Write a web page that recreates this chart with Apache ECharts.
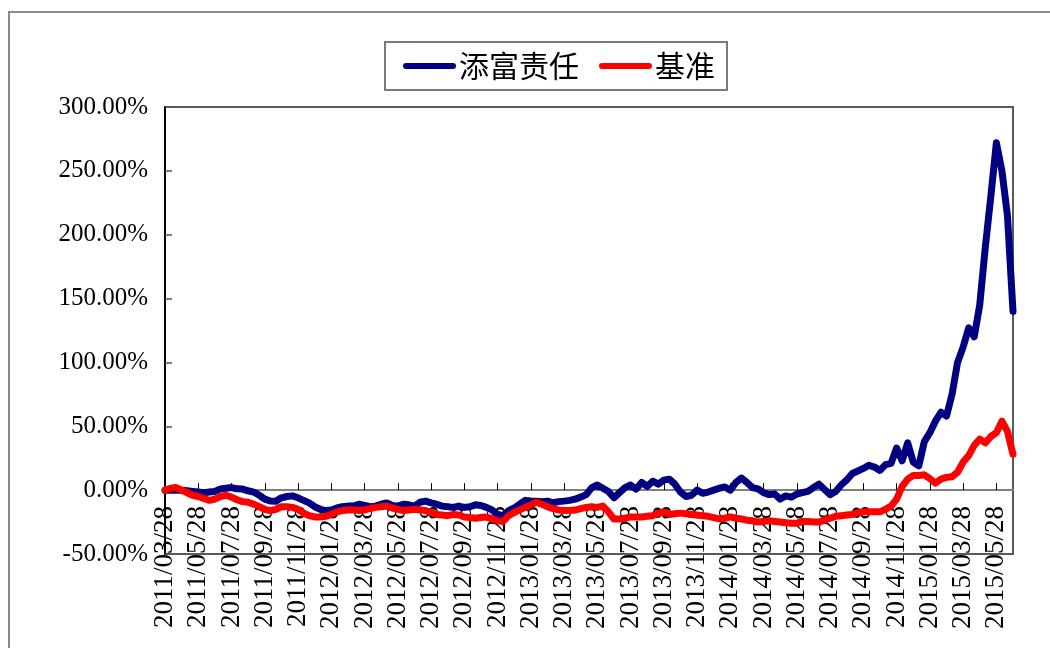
<!DOCTYPE html>
<html lang="zh">
<head>
    <meta charset="UTF-8">
    <title>添富责任 vs 基准</title>
    <script src="https://cdn.jsdelivr.net/npm/echarts@6/dist/echarts.min.js"></script>
    <style>
        html, body { margin: 0; padding: 0; background: #fff; }
    </style>
</head>
<body>
    <div id="main" style="width: 1050px;height: 648px;"></div>

    <script type="text/javascript">
        // 横轴刻度标签（每两个月一个）
        var tickLabels = [
            '2011/03/28','2011/05/28','2011/07/28','2011/09/28','2011/11/28',
            '2012/01/28','2012/03/28','2012/05/28','2012/07/28','2012/09/28','2012/11/28',
            '2013/01/28','2013/03/28','2013/05/28','2013/07/28','2013/09/28','2013/11/28',
            '2014/01/28','2014/03/28','2014/05/28','2014/07/28','2014/09/28','2014/11/28',
            '2015/01/28','2015/03/28','2015/05/28'
        ];
        // 每个刻度之间的取样点数
        var perTick = 6;

        // 添富责任 累计收益 (%)
        var fund = [
            0, 0, 0, 0, -0.5, -1, -1.5, -2, -1.5, -1,
            1, 1.5, 2, 1, 0.8, -0.5, -1.5, -4, -7, -8.5,
            -8.6, -6, -5, -4.5, -6, -8, -10, -13, -15, -16,
            -15.5, -14, -13, -12.5, -12.5, -11, -12, -13, -12.5, -11,
            -10, -12, -12.5, -11, -11.5, -12.5, -9.5, -8.6, -10, -11,
            -12.5, -13, -13.5, -12.5, -13.5, -13, -11.5, -12, -13.5, -15.5,
            -19, -20, -16, -14, -11, -8, -8.5, -8.6, -9, -8.6,
            -10, -9, -8.6, -8, -7, -5.5, -3.5, 2, 4, 1.5,
            -1, -6, -2, 2, 4, 0.8, 6, 3, 7, 4.7,
            7.8, 8.6, 4.7, -1.5, -5, -4, 0, -2.5, -1.5, 0,
            1.5, 2.5, 0, 6, 9.5, 6, 2, 1, -2, -3.5,
            -3, -7, -4.5, -5.5, -3, -2, -1, 2, 4.7, 0.5,
            -3.5, -1, 4, 8, 13, 15, 17, 19.5, 18, 15.5,
            20, 21, 33, 23, 37, 22, 19, 38, 45, 54,
            61, 58, 75, 100, 112, 127, 120, 145, 190, 230,
            272, 250, 215, 140
        ];
        // 基准 累计收益 (%)
        var bench = [
            0, 1.5, 2, 0, -2, -4, -5, -6.5, -8, -7,
            -5, -4, -5.5, -7.5, -9, -9.5, -11, -13, -15, -16,
            -15, -13, -13, -13.5, -15, -18, -20, -21, -21, -20.5,
            -19, -17, -16, -15.5, -15.6, -16, -15.5, -14.5, -13.5, -13,
            -12.5, -14, -15, -16, -15.5, -15, -15.5, -16, -17.5, -19,
            -19.5, -20, -19, -19.5, -21, -21.5, -22, -21.5, -21, -22.5,
            -24, -24.5, -20, -17.5, -15.5, -13.5, -11.5, -9.5, -11, -13,
            -14.5, -15.5, -16, -16, -15.6, -14.5, -13.5, -13, -13.5, -12.5,
            -17, -22.6, -22.6, -22, -21, -21, -21, -20.5, -20, -18,
            -17, -19, -18.5, -18, -18.5, -19, -19.5, -20, -20.5, -21.5,
            -22.5, -22, -21, -22, -22.6, -23.5, -24, -25, -24.5, -24,
            -24.5, -25, -25.5, -26, -26, -24.5, -24.5, -25, -25, -23.5,
            -22, -20.5, -20, -19.5, -19, -17.5, -17, -17, -17, -17,
            -15, -12.5, -7, 3, 8.6, 11.5, 11.5, 12, 9, 5.5,
            8.6, 10, 10.5, 14, 22, 27, 35, 40, 37, 42,
            45, 54, 46, 28
        ];

        // 生成横轴类目（刻度处为标签日期，中间取样点按约10天推算）
        function fmtDate(d) {
            var m = d.getMonth() + 1, day = d.getDate();
            return d.getFullYear() + '/' + (m < 10 ? '0' + m : m) + '/' + (day < 10 ? '0' + day : day);
        }
        var categories = [];
        for (var i = 0; i < fund.length; i++) {
            var k = Math.min(Math.floor(i / perTick), tickLabels.length - 1);
            var j = i - k * perTick;
            if (j === 0) {
                categories.push(tickLabels[k]);
            } else {
                var p = tickLabels[k].split('/');
                var d = new Date(+p[0], +p[1] - 1, +p[2] + j * 10);
                categories.push(fmtDate(d));
            }
        }

        var serif = '"Liberation Serif", "DejaVu Serif", serif';
        var cjk = '"Noto Sans CJK SC", sans-serif';

        var myChart = echarts.init(document.getElementById('main'));
        var option = {
            animation: false,
            backgroundColor: '#fff',
            graphic: [{
                type: 'rect',
                shape: { x: 9, y: 12, width: 1100, height: 700 },
                style: { fill: 'none', stroke: '#8a8a8a', lineWidth: 2 },
                silent: true
            }],
            legend: {
                left: 385,
                top: 42,
                padding: [8, 12, 8, 18],
                itemGap: 20,
                itemWidth: 53,
                itemHeight: 7,
                icon: 'path://M3,0 L50,0 A3,3 0 0 1 50,6 L3,6 A3,3 0 0 1 3,0 Z',
                borderColor: '#7a7a7a',
                borderWidth: 2,
                textStyle: { fontFamily: cjk, fontSize: 30, color: '#000', lineHeight: 32, padding: [0, 0, 0, -2] },
                data: ['添富责任', '基准']
            },
            grid: {
                left: 165,
                top: 107,
                right: 37,
                bottom: 94,
                show: true,
                borderColor: '#5a5a5a',
                borderWidth: 2,
                containLabel: false,
                outerBoundsMode: 'none'
            },
            xAxis: {
                type: 'category',
                data: categories,
                boundaryGap: false,
                axisLine: { onZero: true, lineStyle: { color: '#808080', width: 2 } },
                axisTick: {
                    inside: true,
                    length: 7,
                    interval: function (idx) { return idx % perTick === 0; },
                    lineStyle: { color: '#000', width: 1 }
                },
                axisLabel: {
                    rotate: 90,
                    // 标签贴着 0 轴下方排列（与原图一致）
                    margin: -48,
                    interval: function (idx) { return idx % perTick === 0; },
                    fontFamily: serif,
                    fontSize: 27,
                    color: '#000'
                },
                splitLine: { show: false }
            },
            yAxis: {
                type: 'value',
                min: -50,
                max: 300,
                interval: 50,
                axisLine: { show: true, lineStyle: { color: '#000', width: 2 } },
                axisTick: { show: true, inside: true, length: 7, lineStyle: { color: '#555', width: 1.5 } },
                axisLabel: {
                    margin: 17,
                    fontFamily: serif,
                    fontSize: 25,
                    color: '#000',
                    formatter: function (v) { return v.toFixed(2) + '%'; }
                },
                splitLine: { show: false }
            },
            series: [{
                name: '添富责任',
                type: 'line',
                data: fund,
                showSymbol: false,
                symbol: 'none',
                color: '#000080',
                lineStyle: { color: '#000080', width: 7, join: 'round', cap: 'round' }
            }, {
                name: '基准',
                type: 'line',
                data: bench,
                showSymbol: false,
                symbol: 'none',
                color: '#ff0000',
                lineStyle: { color: '#ff0000', width: 7, join: 'round', cap: 'round' }
            }]
        };
        myChart.setOption(option);
    </script>
</body>
</html>
